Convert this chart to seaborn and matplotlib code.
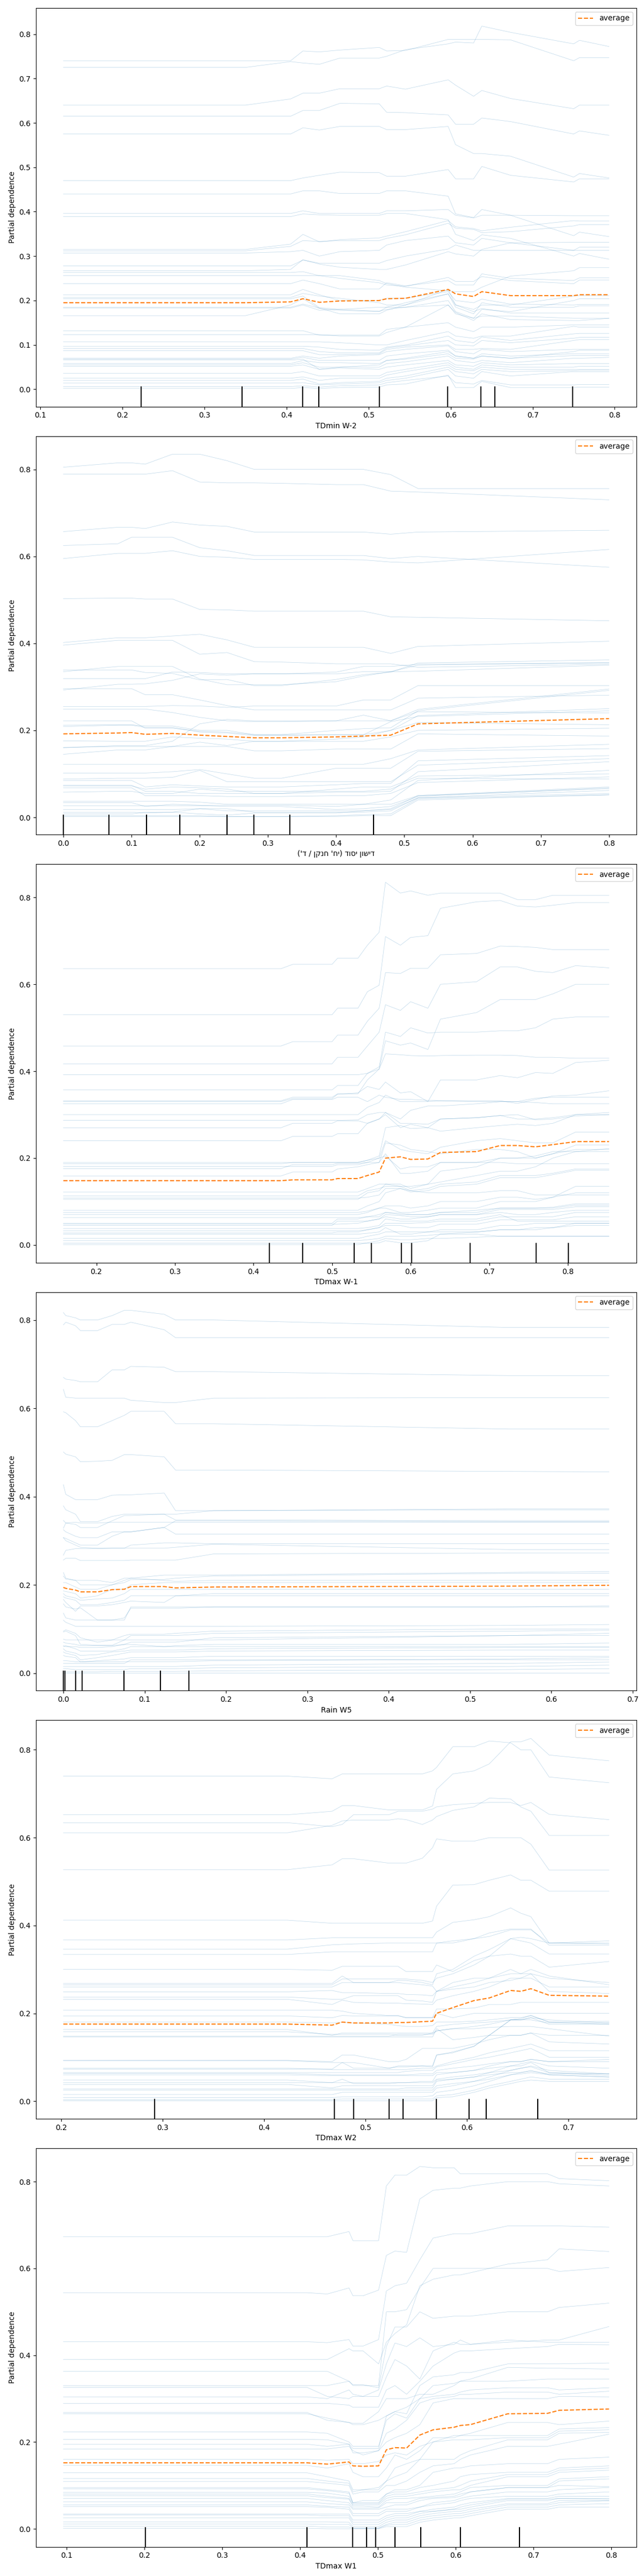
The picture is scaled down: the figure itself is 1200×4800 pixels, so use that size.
import matplotlib
matplotlib.use("Agg")
import matplotlib.pyplot as plt
import matplotlib.transforms as mtransforms
from matplotlib.ticker import MultipleLocator
import pandas as pd
import seaborn as sns

# ---- panel 1: TDmin W-2 ----
tdmin_w2_name = "TDmin W-2"
tdmin_w2_grid = [0.128, 0.350, 0.405, 0.420, 0.440, 0.465, 0.513, 0.522, 0.545, 0.597, 0.606, 0.628, 0.638, 0.673, 0.750, 0.757, 0.793]
tdmin_w2_avg = [0.195, 0.195, 0.197, 0.204, 0.196, 0.199, 0.200, 0.204, 0.205, 0.225, 0.215, 0.209, 0.220, 0.211, 0.211, 0.213, 0.213]
tdmin_w2_deciles = [0.2226, 0.3457, 0.420, 0.439, 0.513, 0.5965, 0.6367, 0.654, 0.749]
tdmin_w2_ice = [
    [0.740, 0.740, 0.740, 0.762, 0.760, 0.764, 0.770, 0.762, 0.763, 0.788, 0.788, 0.788, 0.788, 0.787, 0.740, 0.747, 0.747],
    [0.725, 0.725, 0.738, 0.735, 0.732, 0.746, 0.746, 0.750, 0.765, 0.778, 0.782, 0.780, 0.818, 0.804, 0.778, 0.786, 0.772],
    [0.640, 0.640, 0.654, 0.667, 0.667, 0.677, 0.677, 0.683, 0.676, 0.697, 0.685, 0.660, 0.673, 0.655, 0.632, 0.640, 0.640],
    [0.615, 0.615, 0.615, 0.628, 0.628, 0.644, 0.643, 0.624, 0.623, 0.618, 0.597, 0.597, 0.611, 0.603, 0.575, 0.582, 0.572],
    [0.575, 0.575, 0.575, 0.589, 0.584, 0.592, 0.592, 0.585, 0.585, 0.592, 0.551, 0.531, 0.531, 0.525, 0.478, 0.486, 0.476],
    [0.470, 0.470, 0.470, 0.476, 0.482, 0.489, 0.488, 0.480, 0.480, 0.495, 0.474, 0.474, 0.502, 0.482, 0.467, 0.474, 0.474],
    [0.440, 0.440, 0.440, 0.447, 0.447, 0.441, 0.441, 0.447, 0.447, 0.435, 0.395, 0.387, 0.405, 0.392, 0.346, 0.354, 0.344],
    [0.396, 0.396, 0.396, 0.402, 0.396, 0.396, 0.396, 0.402, 0.402, 0.405, 0.392, 0.386, 0.392, 0.392, 0.391, 0.391, 0.391],
    [0.389, 0.389, 0.389, 0.395, 0.393, 0.392, 0.392, 0.396, 0.396, 0.382, 0.349, 0.335, 0.348, 0.340, 0.300, 0.306, 0.293],
    [0.315, 0.315, 0.327, 0.349, 0.332, 0.337, 0.341, 0.345, 0.355, 0.380, 0.366, 0.362, 0.357, 0.365, 0.380, 0.379, 0.379],
    [0.312, 0.312, 0.322, 0.335, 0.333, 0.335, 0.335, 0.340, 0.348, 0.374, 0.363, 0.360, 0.353, 0.355, 0.368, 0.371, 0.371],
    [0.307, 0.307, 0.310, 0.313, 0.300, 0.310, 0.313, 0.325, 0.335, 0.345, 0.330, 0.325, 0.340, 0.330, 0.313, 0.320, 0.320],
    [0.278, 0.278, 0.278, 0.291, 0.284, 0.284, 0.284, 0.290, 0.300, 0.316, 0.325, 0.313, 0.313, 0.313, 0.313, 0.313, 0.313],
    [0.267, 0.267, 0.270, 0.292, 0.282, 0.275, 0.270, 0.270, 0.280, 0.310, 0.305, 0.300, 0.315, 0.330, 0.331, 0.331, 0.331],
    [0.263, 0.263, 0.263, 0.265, 0.256, 0.256, 0.245, 0.238, 0.230, 0.222, 0.220, 0.220, 0.230, 0.255, 0.267, 0.274, 0.274],
    [0.256, 0.256, 0.256, 0.256, 0.256, 0.250, 0.240, 0.235, 0.232, 0.252, 0.243, 0.243, 0.254, 0.245, 0.238, 0.246, 0.246],
    [0.238, 0.238, 0.238, 0.246, 0.238, 0.226, 0.226, 0.240, 0.233, 0.245, 0.235, 0.235, 0.260, 0.250, 0.245, 0.251, 0.251],
    [0.213, 0.213, 0.213, 0.225, 0.213, 0.200, 0.200, 0.205, 0.205, 0.220, 0.200, 0.195, 0.203, 0.192, 0.190, 0.191, 0.191],
    [0.207, 0.207, 0.207, 0.216, 0.210, 0.205, 0.195, 0.190, 0.190, 0.215, 0.185, 0.170, 0.195, 0.185, 0.185, 0.188, 0.188],
    [0.204, 0.204, 0.204, 0.210, 0.184, 0.180, 0.176, 0.180, 0.185, 0.200, 0.175, 0.160, 0.180, 0.175, 0.200, 0.204, 0.204],
    [0.185, 0.185, 0.185, 0.192, 0.183, 0.170, 0.170, 0.178, 0.190, 0.225, 0.190, 0.175, 0.182, 0.172, 0.172, 0.172, 0.172],
    [0.183, 0.183, 0.183, 0.190, 0.178, 0.180, 0.185, 0.185, 0.185, 0.190, 0.173, 0.155, 0.170, 0.157, 0.155, 0.155, 0.160],
    [0.166, 0.166, 0.190, 0.204, 0.182, 0.178, 0.175, 0.185, 0.195, 0.215, 0.190, 0.180, 0.190, 0.190, 0.210, 0.211, 0.211],
    [0.132, 0.132, 0.132, 0.132, 0.122, 0.122, 0.122, 0.135, 0.140, 0.150, 0.140, 0.130, 0.140, 0.140, 0.145, 0.145, 0.145],
    [0.123, 0.123, 0.123, 0.123, 0.123, 0.120, 0.120, 0.128, 0.140, 0.190, 0.170, 0.160, 0.165, 0.165, 0.160, 0.160, 0.160],
    [0.107, 0.107, 0.107, 0.107, 0.107, 0.105, 0.100, 0.100, 0.110, 0.130, 0.120, 0.115, 0.120, 0.120, 0.142, 0.140, 0.140],
    [0.097, 0.097, 0.097, 0.097, 0.095, 0.090, 0.088, 0.095, 0.100, 0.120, 0.110, 0.105, 0.118, 0.110, 0.125, 0.126, 0.126],
    [0.092, 0.092, 0.092, 0.092, 0.085, 0.082, 0.082, 0.093, 0.098, 0.110, 0.100, 0.098, 0.110, 0.105, 0.115, 0.117, 0.117],
    [0.087, 0.087, 0.087, 0.087, 0.078, 0.078, 0.080, 0.090, 0.095, 0.100, 0.090, 0.090, 0.092, 0.090, 0.110, 0.112, 0.112],
    [0.070, 0.070, 0.070, 0.075, 0.070, 0.075, 0.078, 0.085, 0.090, 0.098, 0.085, 0.080, 0.090, 0.085, 0.090, 0.090, 0.090],
    [0.068, 0.068, 0.068, 0.072, 0.065, 0.065, 0.065, 0.075, 0.080, 0.088, 0.075, 0.070, 0.075, 0.070, 0.085, 0.088, 0.088],
    [0.066, 0.066, 0.066, 0.068, 0.045, 0.050, 0.055, 0.065, 0.070, 0.085, 0.075, 0.070, 0.080, 0.075, 0.080, 0.080, 0.080],
    [0.058, 0.058, 0.058, 0.065, 0.060, 0.060, 0.058, 0.065, 0.068, 0.080, 0.070, 0.068, 0.075, 0.070, 0.076, 0.076, 0.076],
    [0.055, 0.055, 0.055, 0.060, 0.050, 0.050, 0.050, 0.058, 0.062, 0.075, 0.065, 0.060, 0.065, 0.060, 0.070, 0.070, 0.072],
    [0.052, 0.052, 0.052, 0.055, 0.045, 0.048, 0.045, 0.050, 0.055, 0.065, 0.055, 0.052, 0.060, 0.055, 0.058, 0.058, 0.058],
    [0.036, 0.036, 0.036, 0.040, 0.030, 0.030, 0.030, 0.038, 0.045, 0.060, 0.050, 0.045, 0.055, 0.050, 0.050, 0.052, 0.052],
    [0.025, 0.025, 0.025, 0.028, 0.020, 0.025, 0.025, 0.032, 0.040, 0.055, 0.045, 0.042, 0.050, 0.045, 0.045, 0.045, 0.045],
    [0.020, 0.020, 0.020, 0.023, 0.012, 0.015, 0.018, 0.025, 0.030, 0.050, 0.040, 0.035, 0.045, 0.040, 0.042, 0.043, 0.043],
    [0.014, 0.014, 0.014, 0.015, 0.010, 0.012, 0.015, 0.020, 0.025, 0.045, 0.030, 0.025, 0.040, 0.030, 0.040, 0.040, 0.040],
    [0.006, 0.006, 0.006, 0.008, 0.005, 0.008, 0.010, 0.015, 0.020, 0.030, 0.015, 0.012, 0.020, 0.010, 0.010, 0.011, 0.011],
    [0.002, 0.002, 0.002, 0.004, 0.002, 0.004, 0.005, 0.010, 0.012, 0.032, 0.004, 0.004, 0.018, 0.004, 0.004, 0.005, 0.005],
]

# ---- panel 2: base fertilisation, Hebrew label already in visual (display) order ----
nitrogen_name = "('\u05d3 / \u05df\u05e7\u05e0\u05d7 '\u05d7\u05d9) \u05d3\u05d5\u05e1\u05d9 \u05df\u05d5\u05e9\u05d9\u05d3"
nitrogen_grid = [0.0, 0.08, 0.10, 0.12, 0.16, 0.20, 0.24, 0.28, 0.32, 0.40, 0.44, 0.48, 0.52, 0.80]
nitrogen_avg = [0.192, 0.194, 0.195, 0.191, 0.193, 0.189, 0.186, 0.183, 0.183, 0.185, 0.187, 0.189, 0.215, 0.227]
nitrogen_deciles = [0.0, 0.0665, 0.122, 0.171, 0.240, 0.279, 0.332, 0.455]
nitrogen_ice = [
    [0.805, 0.815, 0.815, 0.812, 0.835, 0.835, 0.820, 0.800, 0.800, 0.800, 0.800, 0.788, 0.756, 0.756],
    [0.789, 0.789, 0.789, 0.789, 0.797, 0.771, 0.769, 0.769, 0.768, 0.765, 0.765, 0.750, 0.748, 0.730],
    [0.657, 0.667, 0.667, 0.664, 0.679, 0.672, 0.669, 0.656, 0.656, 0.656, 0.656, 0.651, 0.656, 0.660],
    [0.625, 0.629, 0.644, 0.644, 0.644, 0.620, 0.613, 0.602, 0.602, 0.602, 0.602, 0.595, 0.600, 0.575],
    [0.595, 0.607, 0.607, 0.607, 0.613, 0.600, 0.598, 0.593, 0.593, 0.593, 0.592, 0.587, 0.585, 0.616],
    [0.503, 0.504, 0.504, 0.502, 0.502, 0.478, 0.477, 0.474, 0.474, 0.474, 0.474, 0.461, 0.460, 0.452],
    [0.402, 0.413, 0.413, 0.413, 0.417, 0.421, 0.408, 0.391, 0.391, 0.391, 0.391, 0.377, 0.393, 0.405],
    [0.396, 0.407, 0.407, 0.407, 0.407, 0.375, 0.379, 0.358, 0.357, 0.353, 0.353, 0.353, 0.345, 0.352],
    [0.339, 0.339, 0.339, 0.333, 0.331, 0.316, 0.317, 0.303, 0.303, 0.317, 0.328, 0.334, 0.355, 0.362],
    [0.335, 0.347, 0.347, 0.347, 0.347, 0.318, 0.305, 0.305, 0.305, 0.312, 0.325, 0.335, 0.350, 0.356],
    [0.319, 0.319, 0.319, 0.319, 0.334, 0.333, 0.330, 0.330, 0.330, 0.334, 0.347, 0.347, 0.352, 0.355],
    [0.296, 0.296, 0.296, 0.282, 0.282, 0.270, 0.257, 0.247, 0.247, 0.247, 0.247, 0.247, 0.274, 0.281],
    [0.293, 0.306, 0.306, 0.307, 0.315, 0.330, 0.327, 0.330, 0.330, 0.330, 0.335, 0.335, 0.336, 0.350],
    [0.255, 0.255, 0.255, 0.255, 0.257, 0.256, 0.253, 0.256, 0.256, 0.256, 0.270, 0.270, 0.303, 0.303],
    [0.249, 0.249, 0.249, 0.249, 0.241, 0.230, 0.222, 0.220, 0.220, 0.222, 0.222, 0.222, 0.248, 0.295],
    [0.222, 0.222, 0.222, 0.205, 0.205, 0.198, 0.196, 0.190, 0.190, 0.190, 0.190, 0.220, 0.232, 0.245],
    [0.212, 0.213, 0.213, 0.210, 0.210, 0.200, 0.200, 0.190, 0.190, 0.200, 0.204, 0.206, 0.245, 0.292],
    [0.209, 0.212, 0.212, 0.207, 0.207, 0.196, 0.194, 0.188, 0.188, 0.190, 0.190, 0.200, 0.234, 0.250],
    [0.160, 0.165, 0.165, 0.165, 0.175, 0.215, 0.225, 0.222, 0.222, 0.222, 0.235, 0.222, 0.243, 0.240],
    [0.176, 0.175, 0.175, 0.175, 0.185, 0.182, 0.180, 0.175, 0.175, 0.175, 0.175, 0.185, 0.200, 0.205],
    [0.161, 0.163, 0.163, 0.163, 0.163, 0.163, 0.163, 0.153, 0.153, 0.157, 0.157, 0.157, 0.192, 0.187],
    [0.145, 0.155, 0.155, 0.155, 0.163, 0.173, 0.165, 0.175, 0.175, 0.180, 0.185, 0.200, 0.218, 0.213],
    [0.122, 0.122, 0.122, 0.122, 0.122, 0.122, 0.122, 0.122, 0.122, 0.122, 0.122, 0.135, 0.155, 0.168],
    [0.102, 0.102, 0.102, 0.102, 0.105, 0.110, 0.100, 0.090, 0.090, 0.113, 0.113, 0.113, 0.152, 0.158],
    [0.088, 0.090, 0.090, 0.090, 0.092, 0.108, 0.082, 0.082, 0.082, 0.082, 0.082, 0.082, 0.120, 0.135],
    [0.085, 0.085, 0.085, 0.070, 0.075, 0.072, 0.070, 0.070, 0.070, 0.075, 0.078, 0.078, 0.130, 0.142],
    [0.074, 0.074, 0.074, 0.060, 0.060, 0.055, 0.055, 0.055, 0.055, 0.058, 0.058, 0.060, 0.105, 0.128],
    [0.072, 0.072, 0.072, 0.065, 0.070, 0.068, 0.065, 0.055, 0.055, 0.065, 0.070, 0.070, 0.095, 0.100],
    [0.068, 0.068, 0.068, 0.050, 0.050, 0.050, 0.048, 0.048, 0.048, 0.050, 0.050, 0.055, 0.080, 0.093],
    [0.058, 0.060, 0.060, 0.055, 0.055, 0.065, 0.060, 0.060, 0.060, 0.060, 0.060, 0.065, 0.090, 0.088],
    [0.037, 0.037, 0.037, 0.037, 0.037, 0.035, 0.030, 0.030, 0.030, 0.030, 0.030, 0.040, 0.085, 0.108],
    [0.034, 0.034, 0.034, 0.025, 0.030, 0.028, 0.028, 0.028, 0.028, 0.025, 0.030, 0.030, 0.050, 0.070],
    [0.027, 0.027, 0.027, 0.027, 0.027, 0.027, 0.025, 0.025, 0.025, 0.018, 0.020, 0.025, 0.048, 0.068],
    [0.018, 0.018, 0.018, 0.018, 0.018, 0.020, 0.015, 0.015, 0.015, 0.015, 0.015, 0.020, 0.050, 0.066],
    [0.012, 0.012, 0.012, 0.010, 0.012, 0.020, 0.020, 0.012, 0.012, 0.012, 0.012, 0.015, 0.045, 0.062],
    [0.008, 0.008, 0.008, 0.012, 0.012, 0.008, 0.005, 0.010, 0.010, 0.010, 0.015, 0.018, 0.045, 0.055],
    [0.004, 0.004, 0.004, 0.004, 0.004, 0.004, 0.002, 0.002, 0.002, 0.002, 0.004, 0.004, 0.040, 0.052],
    [0.002, 0.002, 0.002, 0.002, 0.002, 0.002, 0.002, 0.002, 0.002, 0.004, 0.006, 0.008, 0.043, 0.052],
]

# ---- panel 3: TDmax W-1 ----
tdmax_wm1_name = "TDmax W-1"
tdmax_wm1_grid = [0.158, 0.435, 0.450, 0.500, 0.507, 0.533, 0.545, 0.560, 0.568, 0.587, 0.600, 0.622, 0.638, 0.684, 0.714, 0.736, 0.759, 0.781, 0.810, 0.8525]
tdmax_wm1_avg = [0.148, 0.148, 0.150, 0.150, 0.153, 0.153, 0.160, 0.168, 0.200, 0.203, 0.197, 0.198, 0.213, 0.215, 0.229, 0.229, 0.226, 0.231, 0.238, 0.238]
tdmax_wm1_deciles = [0.420, 0.4625, 0.528, 0.550, 0.588, 0.601, 0.6756, 0.760, 0.801]
tdmax_wm1_ice = [
    [0.636, 0.636, 0.646, 0.646, 0.660, 0.660, 0.690, 0.720, 0.835, 0.810, 0.815, 0.805, 0.810, 0.810, 0.810, 0.795, 0.795, 0.805, 0.805, 0.805],
    [0.530, 0.530, 0.530, 0.530, 0.545, 0.545, 0.583, 0.598, 0.710, 0.690, 0.708, 0.712, 0.775, 0.790, 0.793, 0.780, 0.778, 0.782, 0.788, 0.788],
    [0.458, 0.458, 0.468, 0.468, 0.483, 0.483, 0.515, 0.545, 0.627, 0.625, 0.637, 0.637, 0.668, 0.671, 0.688, 0.687, 0.685, 0.680, 0.680, 0.680],
    [0.417, 0.417, 0.417, 0.417, 0.432, 0.432, 0.458, 0.490, 0.553, 0.540, 0.560, 0.545, 0.600, 0.606, 0.640, 0.640, 0.630, 0.627, 0.643, 0.638],
    [0.392, 0.392, 0.392, 0.392, 0.392, 0.392, 0.395, 0.405, 0.470, 0.460, 0.465, 0.450, 0.520, 0.535, 0.565, 0.565, 0.565, 0.578, 0.600, 0.600],
    [0.357, 0.357, 0.357, 0.357, 0.367, 0.367, 0.395, 0.410, 0.490, 0.480, 0.500, 0.488, 0.490, 0.490, 0.493, 0.493, 0.500, 0.520, 0.525, 0.525],
    [0.332, 0.332, 0.340, 0.340, 0.348, 0.348, 0.380, 0.405, 0.440, 0.438, 0.436, 0.435, 0.436, 0.437, 0.437, 0.436, 0.432, 0.432, 0.430, 0.430],
    [0.330, 0.330, 0.337, 0.337, 0.347, 0.350, 0.365, 0.358, 0.375, 0.350, 0.353, 0.330, 0.380, 0.380, 0.390, 0.385, 0.397, 0.395, 0.420, 0.425],
    [0.325, 0.325, 0.335, 0.335, 0.340, 0.340, 0.330, 0.345, 0.340, 0.335, 0.335, 0.333, 0.332, 0.332, 0.332, 0.326, 0.335, 0.343, 0.345, 0.355],
    [0.300, 0.300, 0.300, 0.300, 0.300, 0.300, 0.317, 0.328, 0.345, 0.330, 0.330, 0.330, 0.332, 0.330, 0.330, 0.330, 0.328, 0.325, 0.325, 0.325],
    [0.287, 0.287, 0.287, 0.287, 0.287, 0.288, 0.300, 0.305, 0.305, 0.290, 0.310, 0.320, 0.320, 0.325, 0.330, 0.330, 0.338, 0.340, 0.340, 0.340],
    [0.270, 0.270, 0.280, 0.280, 0.286, 0.286, 0.280, 0.290, 0.305, 0.280, 0.280, 0.278, 0.290, 0.293, 0.298, 0.300, 0.288, 0.290, 0.297, 0.300],
    [0.240, 0.240, 0.250, 0.250, 0.256, 0.256, 0.280, 0.290, 0.300, 0.270, 0.278, 0.270, 0.262, 0.270, 0.275, 0.278, 0.275, 0.280, 0.300, 0.305],
    [0.190, 0.190, 0.190, 0.190, 0.190, 0.190, 0.195, 0.205, 0.270, 0.275, 0.268, 0.270, 0.290, 0.293, 0.298, 0.290, 0.290, 0.293, 0.300, 0.300],
    [0.187, 0.187, 0.190, 0.190, 0.190, 0.190, 0.195, 0.200, 0.240, 0.220, 0.215, 0.210, 0.225, 0.240, 0.245, 0.240, 0.235, 0.235, 0.260, 0.260],
    [0.181, 0.181, 0.181, 0.181, 0.185, 0.185, 0.190, 0.190, 0.235, 0.230, 0.220, 0.215, 0.210, 0.220, 0.220, 0.215, 0.200, 0.210, 0.220, 0.220],
    [0.176, 0.176, 0.185, 0.185, 0.188, 0.188, 0.190, 0.200, 0.205, 0.175, 0.180, 0.180, 0.190, 0.190, 0.190, 0.187, 0.187, 0.187, 0.187, 0.187],
    [0.159, 0.159, 0.168, 0.168, 0.175, 0.180, 0.185, 0.190, 0.210, 0.165, 0.165, 0.170, 0.190, 0.190, 0.200, 0.200, 0.205, 0.215, 0.215, 0.215],
    [0.122, 0.122, 0.122, 0.122, 0.122, 0.122, 0.130, 0.140, 0.140, 0.135, 0.135, 0.140, 0.145, 0.160, 0.170, 0.170, 0.180, 0.200, 0.215, 0.222],
    [0.113, 0.113, 0.113, 0.113, 0.113, 0.113, 0.125, 0.130, 0.135, 0.135, 0.125, 0.130, 0.140, 0.145, 0.160, 0.160, 0.160, 0.165, 0.175, 0.175],
    [0.108, 0.108, 0.108, 0.108, 0.108, 0.108, 0.110, 0.115, 0.130, 0.130, 0.122, 0.125, 0.135, 0.140, 0.155, 0.155, 0.155, 0.162, 0.172, 0.172],
    [0.105, 0.105, 0.105, 0.105, 0.105, 0.105, 0.120, 0.125, 0.140, 0.140, 0.130, 0.140, 0.170, 0.180, 0.200, 0.200, 0.200, 0.210, 0.230, 0.230],
    [0.080, 0.080, 0.080, 0.080, 0.080, 0.080, 0.090, 0.100, 0.120, 0.130, 0.125, 0.120, 0.120, 0.120, 0.125, 0.125, 0.115, 0.115, 0.115, 0.115],
    [0.075, 0.075, 0.075, 0.075, 0.075, 0.075, 0.078, 0.085, 0.090, 0.090, 0.085, 0.090, 0.100, 0.100, 0.110, 0.110, 0.105, 0.110, 0.120, 0.120],
    [0.070, 0.070, 0.070, 0.070, 0.070, 0.070, 0.075, 0.085, 0.085, 0.075, 0.075, 0.080, 0.085, 0.085, 0.100, 0.100, 0.100, 0.110, 0.135, 0.135],
    [0.063, 0.063, 0.063, 0.063, 0.063, 0.063, 0.065, 0.070, 0.075, 0.070, 0.070, 0.070, 0.075, 0.075, 0.085, 0.085, 0.085, 0.085, 0.092, 0.092],
    [0.050, 0.050, 0.050, 0.050, 0.060, 0.060, 0.065, 0.065, 0.075, 0.073, 0.070, 0.070, 0.075, 0.080, 0.085, 0.085, 0.085, 0.087, 0.095, 0.095],
    [0.048, 0.048, 0.048, 0.048, 0.048, 0.050, 0.055, 0.060, 0.070, 0.068, 0.065, 0.065, 0.070, 0.070, 0.082, 0.082, 0.082, 0.082, 0.088, 0.088],
    [0.045, 0.045, 0.045, 0.045, 0.055, 0.055, 0.055, 0.060, 0.065, 0.060, 0.060, 0.065, 0.070, 0.070, 0.075, 0.070, 0.070, 0.075, 0.080, 0.080],
    [0.038, 0.038, 0.038, 0.038, 0.038, 0.038, 0.040, 0.045, 0.060, 0.055, 0.055, 0.055, 0.060, 0.060, 0.070, 0.055, 0.055, 0.055, 0.055, 0.055],
    [0.033, 0.033, 0.033, 0.033, 0.033, 0.033, 0.035, 0.040, 0.050, 0.050, 0.050, 0.052, 0.055, 0.055, 0.065, 0.065, 0.065, 0.065, 0.075, 0.075],
    [0.028, 0.028, 0.028, 0.028, 0.030, 0.030, 0.035, 0.040, 0.045, 0.045, 0.040, 0.040, 0.048, 0.048, 0.058, 0.058, 0.058, 0.058, 0.065, 0.065],
    [0.025, 0.025, 0.025, 0.025, 0.025, 0.025, 0.027, 0.030, 0.040, 0.025, 0.025, 0.030, 0.035, 0.035, 0.045, 0.045, 0.050, 0.050, 0.050, 0.050],
    [0.015, 0.015, 0.015, 0.015, 0.015, 0.015, 0.020, 0.025, 0.030, 0.030, 0.030, 0.030, 0.030, 0.030, 0.035, 0.035, 0.035, 0.040, 0.050, 0.050],
    [0.010, 0.010, 0.010, 0.010, 0.010, 0.010, 0.012, 0.015, 0.020, 0.020, 0.020, 0.022, 0.025, 0.025, 0.020, 0.020, 0.020, 0.020, 0.020, 0.020],
    [0.004, 0.004, 0.004, 0.004, 0.004, 0.004, 0.004, 0.005, 0.010, 0.005, 0.005, 0.010, 0.025, 0.030, 0.035, 0.035, 0.040, 0.040, 0.045, 0.045],
    [0.001, 0.001, 0.001, 0.001, 0.001, 0.001, 0.005, 0.010, 0.015, 0.012, 0.012, 0.015, 0.015, 0.018, 0.020, 0.020, 0.020, 0.020, 0.020, 0.020],
]

# ---- panel 4: Rain W5 ----
rain_w5_name = "Rain W5"
rain_w5_grid = [0.0, 0.003, 0.015, 0.021, 0.042, 0.060, 0.075, 0.083, 0.124, 0.138, 0.185, 0.548, 0.671]
rain_w5_avg = [0.194, 0.192, 0.188, 0.184, 0.184, 0.189, 0.190, 0.196, 0.196, 0.193, 0.195, 0.197, 0.199]
rain_w5_deciles = [0.0, 0.002, 0.015, 0.023, 0.0746, 0.1197, 0.1547]
rain_w5_ice = [
    [0.817, 0.810, 0.805, 0.800, 0.800, 0.810, 0.822, 0.822, 0.813, 0.800, 0.800, 0.783, 0.783],
    [0.789, 0.795, 0.787, 0.776, 0.776, 0.790, 0.790, 0.795, 0.778, 0.760, 0.760, 0.760, 0.760],
    [0.670, 0.666, 0.663, 0.660, 0.660, 0.687, 0.687, 0.695, 0.693, 0.683, 0.683, 0.674, 0.674],
    [0.643, 0.625, 0.623, 0.623, 0.623, 0.623, 0.623, 0.618, 0.613, 0.613, 0.623, 0.624, 0.624],
    [0.592, 0.590, 0.572, 0.558, 0.558, 0.572, 0.584, 0.593, 0.593, 0.565, 0.565, 0.553, 0.553],
    [0.501, 0.496, 0.490, 0.479, 0.480, 0.482, 0.495, 0.495, 0.490, 0.460, 0.460, 0.457, 0.456],
    [0.427, 0.405, 0.393, 0.393, 0.393, 0.403, 0.404, 0.404, 0.408, 0.368, 0.368, 0.370, 0.370],
    [0.379, 0.370, 0.360, 0.343, 0.343, 0.355, 0.360, 0.360, 0.360, 0.360, 0.368, 0.372, 0.372],
    [0.346, 0.340, 0.337, 0.330, 0.330, 0.345, 0.357, 0.357, 0.360, 0.347, 0.347, 0.345, 0.345],
    [0.328, 0.340, 0.342, 0.340, 0.340, 0.342, 0.342, 0.342, 0.342, 0.342, 0.342, 0.342, 0.342],
    [0.325, 0.320, 0.310, 0.307, 0.307, 0.320, 0.320, 0.320, 0.330, 0.315, 0.315, 0.315, 0.315],
    [0.307, 0.305, 0.295, 0.290, 0.290, 0.310, 0.320, 0.320, 0.330, 0.345, 0.345, 0.343, 0.343],
    [0.307, 0.300, 0.290, 0.285, 0.283, 0.283, 0.283, 0.290, 0.295, 0.295, 0.293, 0.293, 0.293],
    [0.267, 0.278, 0.282, 0.282, 0.282, 0.283, 0.283, 0.283, 0.283, 0.285, 0.292, 0.280, 0.280],
    [0.256, 0.260, 0.260, 0.255, 0.255, 0.255, 0.255, 0.256, 0.256, 0.256, 0.270, 0.272, 0.272],
    [0.228, 0.215, 0.210, 0.210, 0.210, 0.205, 0.215, 0.215, 0.222, 0.222, 0.222, 0.228, 0.230],
    [0.220, 0.213, 0.210, 0.200, 0.200, 0.200, 0.205, 0.212, 0.212, 0.215, 0.220, 0.226, 0.226],
    [0.205, 0.205, 0.195, 0.190, 0.190, 0.200, 0.210, 0.215, 0.210, 0.208, 0.210, 0.210, 0.210],
    [0.186, 0.185, 0.180, 0.170, 0.175, 0.190, 0.190, 0.200, 0.205, 0.205, 0.205, 0.205, 0.205],
    [0.180, 0.175, 0.170, 0.165, 0.168, 0.170, 0.180, 0.190, 0.190, 0.190, 0.190, 0.190, 0.190],
    [0.173, 0.170, 0.165, 0.155, 0.155, 0.160, 0.165, 0.175, 0.175, 0.175, 0.175, 0.175, 0.175],
    [0.167, 0.160, 0.140, 0.152, 0.152, 0.155, 0.160, 0.163, 0.160, 0.175, 0.180, 0.180, 0.180],
    [0.157, 0.150, 0.145, 0.148, 0.120, 0.120, 0.120, 0.150, 0.150, 0.150, 0.150, 0.150, 0.152],
    [0.136, 0.125, 0.120, 0.120, 0.120, 0.120, 0.125, 0.147, 0.147, 0.147, 0.150, 0.150, 0.150],
    [0.120, 0.115, 0.106, 0.106, 0.106, 0.106, 0.106, 0.106, 0.106, 0.106, 0.106, 0.108, 0.110],
    [0.095, 0.098, 0.090, 0.080, 0.070, 0.075, 0.085, 0.088, 0.088, 0.090, 0.095, 0.100, 0.100],
    [0.093, 0.095, 0.085, 0.065, 0.063, 0.063, 0.075, 0.085, 0.085, 0.085, 0.090, 0.095, 0.097],
    [0.077, 0.075, 0.075, 0.075, 0.075, 0.075, 0.075, 0.075, 0.075, 0.075, 0.075, 0.085, 0.090],
    [0.070, 0.068, 0.065, 0.062, 0.062, 0.062, 0.065, 0.070, 0.070, 0.070, 0.080, 0.085, 0.085],
    [0.062, 0.060, 0.060, 0.058, 0.058, 0.060, 0.065, 0.065, 0.060, 0.062, 0.065, 0.065, 0.068],
    [0.060, 0.062, 0.055, 0.050, 0.050, 0.050, 0.055, 0.060, 0.060, 0.060, 0.060, 0.060, 0.060],
    [0.055, 0.050, 0.045, 0.040, 0.042, 0.048, 0.050, 0.052, 0.052, 0.052, 0.055, 0.058, 0.058],
    [0.048, 0.045, 0.040, 0.030, 0.035, 0.040, 0.045, 0.048, 0.048, 0.048, 0.050, 0.052, 0.052],
    [0.040, 0.038, 0.035, 0.025, 0.028, 0.030, 0.032, 0.035, 0.035, 0.035, 0.038, 0.038, 0.038],
    [0.028, 0.028, 0.026, 0.026, 0.026, 0.026, 0.026, 0.026, 0.026, 0.026, 0.028, 0.032, 0.035],
    [0.022, 0.022, 0.022, 0.022, 0.022, 0.022, 0.022, 0.030, 0.030, 0.030, 0.030, 0.030, 0.030],
    [0.015, 0.015, 0.015, 0.015, 0.015, 0.015, 0.015, 0.015, 0.015, 0.015, 0.018, 0.022, 0.025],
    [0.010, 0.010, 0.008, 0.008, 0.008, 0.008, 0.008, 0.010, 0.010, 0.010, 0.012, 0.015, 0.018],
    [0.003, 0.003, 0.003, 0.003, 0.003, 0.004, 0.004, 0.004, 0.004, 0.004, 0.005, 0.008, 0.010],
    [0.001, 0.001, 0.001, 0.001, 0.001, 0.001, 0.001, 0.001, 0.001, 0.001, 0.001, 0.001, 0.001],
]

# ---- panel 5: TDmax W2 ----
tdmax_w2_name = "TDmax W2"
tdmax_w2_grid = [0.202, 0.423, 0.467, 0.477, 0.488, 0.523, 0.532, 0.540, 0.556, 0.566, 0.570, 0.586, 0.607, 0.622, 0.643, 0.653, 0.663, 0.681, 0.740]
tdmax_w2_avg = [0.1755, 0.1755, 0.173, 0.180, 0.178, 0.178, 0.179, 0.179, 0.181, 0.182, 0.200, 0.213, 0.229, 0.235, 0.252, 0.250, 0.256, 0.241, 0.239]
tdmax_w2_deciles = [0.292, 0.469, 0.488, 0.523, 0.537, 0.570, 0.602, 0.619, 0.670]
tdmax_w2_ice = [
    [0.740, 0.740, 0.734, 0.745, 0.745, 0.745, 0.745, 0.745, 0.745, 0.752, 0.760, 0.807, 0.807, 0.820, 0.816, 0.800, 0.800, 0.738, 0.725],
    [0.652, 0.652, 0.660, 0.673, 0.673, 0.663, 0.663, 0.663, 0.663, 0.672, 0.710, 0.745, 0.752, 0.768, 0.818, 0.818, 0.826, 0.788, 0.775],
    [0.634, 0.634, 0.625, 0.630, 0.652, 0.652, 0.660, 0.660, 0.660, 0.665, 0.670, 0.675, 0.678, 0.680, 0.680, 0.673, 0.680, 0.653, 0.641],
    [0.611, 0.611, 0.628, 0.638, 0.640, 0.640, 0.643, 0.641, 0.630, 0.640, 0.648, 0.662, 0.670, 0.690, 0.688, 0.670, 0.660, 0.605, 0.605],
    [0.527, 0.527, 0.538, 0.552, 0.552, 0.542, 0.542, 0.542, 0.553, 0.577, 0.597, 0.592, 0.592, 0.600, 0.600, 0.600, 0.585, 0.526, 0.526],
    [0.412, 0.412, 0.405, 0.405, 0.405, 0.405, 0.405, 0.405, 0.405, 0.410, 0.444, 0.492, 0.493, 0.503, 0.515, 0.503, 0.503, 0.478, 0.478],
    [0.367, 0.367, 0.372, 0.372, 0.372, 0.372, 0.372, 0.372, 0.372, 0.372, 0.385, 0.407, 0.413, 0.420, 0.440, 0.428, 0.420, 0.360, 0.360],
    [0.346, 0.346, 0.356, 0.357, 0.358, 0.360, 0.360, 0.360, 0.360, 0.360, 0.360, 0.365, 0.370, 0.383, 0.392, 0.392, 0.392, 0.355, 0.355],
    [0.334, 0.334, 0.340, 0.340, 0.340, 0.340, 0.340, 0.340, 0.340, 0.340, 0.360, 0.360, 0.370, 0.375, 0.390, 0.390, 0.390, 0.360, 0.365],
    [0.300, 0.300, 0.298, 0.307, 0.307, 0.307, 0.307, 0.295, 0.295, 0.295, 0.310, 0.295, 0.320, 0.330, 0.335, 0.330, 0.330, 0.305, 0.318],
    [0.268, 0.268, 0.268, 0.285, 0.270, 0.270, 0.275, 0.275, 0.270, 0.265, 0.290, 0.300, 0.330, 0.345, 0.370, 0.373, 0.370, 0.360, 0.358],
    [0.265, 0.265, 0.265, 0.278, 0.278, 0.278, 0.278, 0.278, 0.275, 0.270, 0.280, 0.290, 0.310, 0.330, 0.370, 0.365, 0.360, 0.335, 0.335],
    [0.260, 0.260, 0.260, 0.270, 0.270, 0.270, 0.270, 0.268, 0.265, 0.262, 0.250, 0.270, 0.280, 0.280, 0.290, 0.290, 0.300, 0.285, 0.265],
    [0.249, 0.249, 0.252, 0.247, 0.247, 0.245, 0.245, 0.243, 0.242, 0.240, 0.250, 0.260, 0.270, 0.280, 0.300, 0.290, 0.290, 0.280, 0.270],
    [0.237, 0.237, 0.232, 0.232, 0.240, 0.240, 0.240, 0.230, 0.228, 0.225, 0.250, 0.255, 0.260, 0.270, 0.275, 0.280, 0.280, 0.260, 0.260],
    [0.232, 0.232, 0.220, 0.230, 0.225, 0.223, 0.223, 0.222, 0.221, 0.220, 0.230, 0.240, 0.250, 0.260, 0.280, 0.280, 0.290, 0.250, 0.245],
    [0.207, 0.207, 0.207, 0.205, 0.200, 0.195, 0.195, 0.190, 0.190, 0.190, 0.210, 0.210, 0.212, 0.220, 0.220, 0.225, 0.225, 0.225, 0.225],
    [0.194, 0.194, 0.190, 0.195, 0.194, 0.194, 0.194, 0.190, 0.190, 0.190, 0.200, 0.190, 0.200, 0.200, 0.200, 0.200, 0.200, 0.200, 0.200],
    [0.180, 0.180, 0.178, 0.180, 0.178, 0.175, 0.172, 0.170, 0.170, 0.172, 0.180, 0.180, 0.182, 0.185, 0.190, 0.190, 0.195, 0.180, 0.182],
    [0.163, 0.163, 0.150, 0.155, 0.155, 0.155, 0.155, 0.155, 0.155, 0.155, 0.160, 0.165, 0.170, 0.175, 0.185, 0.185, 0.190, 0.175, 0.175],
    [0.158, 0.158, 0.152, 0.152, 0.152, 0.152, 0.150, 0.150, 0.150, 0.155, 0.170, 0.175, 0.178, 0.180, 0.185, 0.185, 0.185, 0.178, 0.178],
    [0.148, 0.148, 0.148, 0.148, 0.148, 0.148, 0.152, 0.152, 0.152, 0.152, 0.160, 0.165, 0.165, 0.168, 0.170, 0.170, 0.170, 0.165, 0.148],
    [0.146, 0.146, 0.146, 0.146, 0.146, 0.146, 0.146, 0.146, 0.146, 0.146, 0.165, 0.140, 0.145, 0.150, 0.150, 0.150, 0.155, 0.135, 0.130],
    [0.093, 0.093, 0.090, 0.105, 0.105, 0.090, 0.090, 0.095, 0.120, 0.120, 0.120, 0.120, 0.130, 0.140, 0.150, 0.150, 0.155, 0.150, 0.150],
    [0.092, 0.092, 0.088, 0.088, 0.075, 0.075, 0.078, 0.078, 0.080, 0.080, 0.105, 0.110, 0.125, 0.150, 0.185, 0.185, 0.190, 0.185, 0.178],
    [0.075, 0.075, 0.073, 0.088, 0.088, 0.075, 0.080, 0.080, 0.080, 0.078, 0.105, 0.112, 0.125, 0.150, 0.185, 0.188, 0.195, 0.180, 0.175],
    [0.073, 0.073, 0.072, 0.072, 0.072, 0.072, 0.072, 0.072, 0.075, 0.075, 0.080, 0.090, 0.100, 0.110, 0.120, 0.125, 0.130, 0.115, 0.115],
    [0.065, 0.065, 0.065, 0.065, 0.065, 0.065, 0.065, 0.068, 0.070, 0.070, 0.078, 0.085, 0.095, 0.100, 0.110, 0.115, 0.120, 0.100, 0.100],
    [0.063, 0.063, 0.060, 0.060, 0.060, 0.060, 0.060, 0.060, 0.062, 0.062, 0.070, 0.075, 0.080, 0.085, 0.090, 0.090, 0.095, 0.090, 0.095],
    [0.060, 0.060, 0.058, 0.058, 0.058, 0.058, 0.058, 0.058, 0.058, 0.058, 0.065, 0.065, 0.070, 0.075, 0.080, 0.080, 0.088, 0.065, 0.062],
    [0.048, 0.048, 0.042, 0.050, 0.040, 0.040, 0.042, 0.042, 0.045, 0.045, 0.060, 0.065, 0.070, 0.080, 0.090, 0.090, 0.095, 0.090, 0.090],
    [0.042, 0.042, 0.042, 0.042, 0.042, 0.042, 0.042, 0.042, 0.042, 0.042, 0.050, 0.055, 0.060, 0.065, 0.070, 0.075, 0.078, 0.065, 0.058],
    [0.038, 0.038, 0.030, 0.035, 0.035, 0.035, 0.035, 0.035, 0.035, 0.035, 0.048, 0.050, 0.055, 0.060, 0.065, 0.065, 0.068, 0.062, 0.062],
    [0.028, 0.028, 0.028, 0.028, 0.028, 0.028, 0.028, 0.030, 0.030, 0.030, 0.045, 0.050, 0.055, 0.065, 0.080, 0.085, 0.090, 0.080, 0.075],
    [0.025, 0.025, 0.025, 0.025, 0.025, 0.025, 0.025, 0.025, 0.025, 0.025, 0.035, 0.040, 0.045, 0.050, 0.060, 0.065, 0.070, 0.060, 0.055],
    [0.015, 0.015, 0.015, 0.020, 0.020, 0.020, 0.020, 0.020, 0.020, 0.020, 0.030, 0.035, 0.045, 0.055, 0.070, 0.075, 0.080, 0.070, 0.062],
    [0.008, 0.008, 0.008, 0.010, 0.010, 0.010, 0.010, 0.010, 0.010, 0.012, 0.020, 0.025, 0.035, 0.045, 0.060, 0.062, 0.065, 0.060, 0.055],
    [0.003, 0.003, 0.003, 0.005, 0.005, 0.005, 0.005, 0.005, 0.005, 0.005, 0.012, 0.015, 0.025, 0.035, 0.045, 0.050, 0.055, 0.050, 0.050],
    [0.001, 0.001, 0.001, 0.001, 0.001, 0.001, 0.001, 0.001, 0.001, 0.001, 0.008, 0.010, 0.020, 0.030, 0.040, 0.045, 0.048, 0.045, 0.045],
]

# ---- panel 6: TDmax W1 ----
tdmax_w1_name = "TDmax W1"
tdmax_w1_grid = [0.096, 0.409, 0.435, 0.463, 0.468, 0.481, 0.501, 0.511, 0.522, 0.537, 0.554, 0.571, 0.598, 0.606, 0.619, 0.667, 0.718, 0.733, 0.797]
tdmax_w1_avg = [0.152, 0.152, 0.149, 0.154, 0.145, 0.144, 0.145, 0.182, 0.187, 0.186, 0.216, 0.228, 0.234, 0.238, 0.240, 0.265, 0.266, 0.273, 0.276]
tdmax_w1_deciles = [0.2012, 0.409, 0.4678, 0.4858, 0.4975, 0.5218, 0.5552, 0.606, 0.682]
tdmax_w1_ice = [
    [0.673, 0.673, 0.673, 0.685, 0.664, 0.664, 0.664, 0.790, 0.815, 0.815, 0.835, 0.832, 0.832, 0.818, 0.818, 0.818, 0.818, 0.807, 0.802],
    [0.544, 0.544, 0.541, 0.555, 0.537, 0.537, 0.550, 0.630, 0.640, 0.637, 0.760, 0.780, 0.785, 0.785, 0.790, 0.800, 0.800, 0.795, 0.790],
    [0.431, 0.431, 0.429, 0.436, 0.421, 0.421, 0.436, 0.548, 0.560, 0.566, 0.620, 0.670, 0.680, 0.680, 0.680, 0.698, 0.698, 0.698, 0.695],
    [0.390, 0.390, 0.390, 0.415, 0.410, 0.410, 0.380, 0.430, 0.450, 0.470, 0.560, 0.575, 0.585, 0.585, 0.590, 0.610, 0.620, 0.645, 0.639],
    [0.363, 0.363, 0.363, 0.340, 0.330, 0.330, 0.330, 0.500, 0.500, 0.505, 0.555, 0.600, 0.600, 0.600, 0.600, 0.600, 0.600, 0.593, 0.602],
    [0.330, 0.330, 0.330, 0.340, 0.332, 0.332, 0.325, 0.420, 0.465, 0.465, 0.500, 0.485, 0.490, 0.490, 0.490, 0.500, 0.500, 0.510, 0.520],
    [0.326, 0.326, 0.305, 0.300, 0.305, 0.305, 0.305, 0.350, 0.390, 0.375, 0.345, 0.410, 0.430, 0.425, 0.425, 0.430, 0.435, 0.435, 0.466],
    [0.304, 0.304, 0.300, 0.320, 0.310, 0.305, 0.320, 0.380, 0.428, 0.420, 0.440, 0.420, 0.425, 0.435, 0.425, 0.435, 0.430, 0.430, 0.430],
    [0.289, 0.289, 0.289, 0.285, 0.280, 0.280, 0.280, 0.320, 0.330, 0.310, 0.340, 0.375, 0.405, 0.410, 0.410, 0.415, 0.420, 0.425, 0.424],
    [0.268, 0.268, 0.250, 0.245, 0.240, 0.240, 0.250, 0.260, 0.270, 0.265, 0.330, 0.350, 0.355, 0.360, 0.360, 0.380, 0.380, 0.380, 0.382],
    [0.265, 0.265, 0.255, 0.245, 0.243, 0.243, 0.270, 0.300, 0.300, 0.300, 0.310, 0.310, 0.330, 0.340, 0.345, 0.372, 0.370, 0.370, 0.368],
    [0.223, 0.223, 0.220, 0.200, 0.190, 0.190, 0.190, 0.250, 0.265, 0.255, 0.300, 0.330, 0.335, 0.340, 0.340, 0.340, 0.345, 0.345, 0.345],
    [0.206, 0.206, 0.205, 0.195, 0.185, 0.185, 0.185, 0.260, 0.270, 0.280, 0.300, 0.305, 0.310, 0.315, 0.320, 0.325, 0.325, 0.320, 0.325],
    [0.195, 0.195, 0.190, 0.195, 0.175, 0.175, 0.180, 0.220, 0.230, 0.250, 0.290, 0.300, 0.305, 0.310, 0.310, 0.315, 0.315, 0.310, 0.317],
    [0.184, 0.184, 0.184, 0.190, 0.180, 0.170, 0.180, 0.200, 0.210, 0.220, 0.240, 0.290, 0.300, 0.300, 0.300, 0.300, 0.300, 0.305, 0.304],
    [0.160, 0.160, 0.158, 0.160, 0.150, 0.150, 0.155, 0.170, 0.175, 0.170, 0.190, 0.200, 0.215, 0.215, 0.220, 0.245, 0.245, 0.240, 0.248],
    [0.146, 0.146, 0.140, 0.150, 0.130, 0.120, 0.120, 0.140, 0.170, 0.160, 0.180, 0.210, 0.210, 0.215, 0.215, 0.215, 0.215, 0.230, 0.233],
    [0.129, 0.129, 0.120, 0.110, 0.090, 0.090, 0.095, 0.110, 0.140, 0.150, 0.160, 0.200, 0.205, 0.205, 0.205, 0.210, 0.210, 0.225, 0.228],
    [0.116, 0.116, 0.110, 0.105, 0.085, 0.090, 0.090, 0.110, 0.120, 0.130, 0.160, 0.160, 0.160, 0.170, 0.180, 0.205, 0.205, 0.220, 0.222],
    [0.109, 0.109, 0.105, 0.100, 0.080, 0.085, 0.085, 0.100, 0.100, 0.110, 0.130, 0.145, 0.150, 0.160, 0.170, 0.190, 0.190, 0.195, 0.218],
    [0.095, 0.095, 0.090, 0.085, 0.060, 0.060, 0.060, 0.080, 0.090, 0.090, 0.100, 0.130, 0.140, 0.140, 0.145, 0.150, 0.150, 0.160, 0.165],
    [0.092, 0.092, 0.088, 0.082, 0.060, 0.065, 0.065, 0.080, 0.085, 0.085, 0.095, 0.100, 0.110, 0.120, 0.125, 0.130, 0.130, 0.140, 0.145],
    [0.084, 0.084, 0.082, 0.075, 0.058, 0.058, 0.058, 0.075, 0.080, 0.080, 0.085, 0.090, 0.095, 0.100, 0.110, 0.125, 0.125, 0.135, 0.140],
    [0.080, 0.080, 0.075, 0.070, 0.055, 0.055, 0.055, 0.070, 0.075, 0.075, 0.080, 0.085, 0.090, 0.090, 0.100, 0.120, 0.120, 0.130, 0.135],
    [0.076, 0.076, 0.072, 0.068, 0.052, 0.052, 0.050, 0.065, 0.070, 0.070, 0.072, 0.075, 0.080, 0.085, 0.095, 0.100, 0.100, 0.115, 0.120],
    [0.070, 0.070, 0.065, 0.060, 0.048, 0.048, 0.048, 0.060, 0.060, 0.060, 0.070, 0.072, 0.075, 0.080, 0.085, 0.095, 0.095, 0.110, 0.115],
    [0.062, 0.062, 0.058, 0.055, 0.045, 0.045, 0.045, 0.050, 0.055, 0.055, 0.065, 0.070, 0.072, 0.075, 0.085, 0.095, 0.095, 0.100, 0.097],
    [0.055, 0.055, 0.052, 0.050, 0.035, 0.035, 0.035, 0.045, 0.045, 0.045, 0.050, 0.060, 0.065, 0.070, 0.075, 0.085, 0.085, 0.090, 0.095],
    [0.051, 0.051, 0.050, 0.045, 0.030, 0.030, 0.030, 0.040, 0.040, 0.040, 0.050, 0.055, 0.060, 0.065, 0.070, 0.075, 0.075, 0.080, 0.085],
    [0.034, 0.034, 0.034, 0.034, 0.020, 0.020, 0.020, 0.030, 0.035, 0.035, 0.040, 0.045, 0.050, 0.055, 0.060, 0.070, 0.070, 0.075, 0.075],
    [0.032, 0.032, 0.030, 0.030, 0.015, 0.015, 0.015, 0.025, 0.030, 0.030, 0.040, 0.040, 0.045, 0.050, 0.055, 0.068, 0.068, 0.070, 0.070],
    [0.025, 0.025, 0.025, 0.025, 0.010, 0.010, 0.010, 0.020, 0.025, 0.025, 0.035, 0.040, 0.045, 0.045, 0.050, 0.065, 0.065, 0.070, 0.068],
    [0.016, 0.016, 0.016, 0.015, 0.005, 0.005, 0.005, 0.015, 0.020, 0.020, 0.030, 0.035, 0.040, 0.040, 0.045, 0.058, 0.058, 0.065, 0.065],
    [0.011, 0.011, 0.010, 0.010, 0.002, 0.002, 0.002, 0.010, 0.015, 0.015, 0.025, 0.030, 0.035, 0.035, 0.040, 0.055, 0.055, 0.060, 0.065],
    [0.006, 0.006, 0.004, 0.004, 0.001, 0.001, 0.001, 0.008, 0.010, 0.010, 0.020, 0.025, 0.030, 0.030, 0.035, 0.050, 0.050, 0.055, 0.058],
    [0.001, 0.001, 0.000, 0.000, 0.000, 0.000, 0.000, 0.005, 0.005, 0.005, 0.015, 0.020, 0.025, 0.025, 0.030, 0.045, 0.045, 0.050, 0.050],
]

panels = [
    (tdmin_w2_name, tdmin_w2_grid, tdmin_w2_ice, tdmin_w2_avg, tdmin_w2_deciles, 0.1),
    (nitrogen_name, nitrogen_grid, nitrogen_ice, nitrogen_avg, nitrogen_deciles, 0.2),
    (tdmax_wm1_name, tdmax_wm1_grid, tdmax_wm1_ice, tdmax_wm1_avg, tdmax_wm1_deciles, 0.2),
    (rain_w5_name, rain_w5_grid, rain_w5_ice, rain_w5_avg, rain_w5_deciles, 0.2),
    (tdmax_w2_name, tdmax_w2_grid, tdmax_w2_ice, tdmax_w2_avg, tdmax_w2_deciles, 0.2),
    (tdmax_w1_name, tdmax_w1_grid, tdmax_w1_ice, tdmax_w1_avg, tdmax_w1_deciles, 0.2),
]


def ice_frame(grid, lines):
    # long-form table: one row per (ice line, grid point)
    rows = []
    for i, line in enumerate(lines):
        for x, y in zip(grid, line):
            rows.append((i, x, y))
    return pd.DataFrame(rows, columns=["line", "x", "y"])


plt.rcParams['font.family'] = ['DejaVu Sans']

fig, axes = plt.subplots(6, 1, figsize=(12, 48))
fig.subplots_adjust(left=0.056, right=0.988, top=0.9969, bottom=0.0113, hspace=0.074)

for ax, (name, grid, ice, avg, deciles, ystep) in zip(axes, panels):
    df = ice_frame(grid, ice)
    sns.lineplot(data=df, x="x", y="y", units="line", estimator=None,
                 color="tab:blue", alpha=0.3, linewidth=0.5, legend=False, ax=ax)

    avg_df = pd.DataFrame({"x": grid, "y": avg})
    sns.lineplot(data=avg_df, x="x", y="y", color="tab:orange", linestyle="--",
                 linewidth=1.5, label="average", ax=ax)

    # decile rug along the bottom of the axes
    trans = mtransforms.blended_transform_factory(ax.transData, ax.transAxes)
    ax.vlines(deciles, 0, 0.05, transform=trans, color="k")

    ax.xaxis.set_major_locator(MultipleLocator(0.1))
    ax.yaxis.set_major_locator(MultipleLocator(ystep))
    ax.set_xlabel(name)
    ax.set_ylabel("Partial dependence")
    ax.legend(loc="upper right")

plt.savefig("out.png", dpi=100)
plt.close()
